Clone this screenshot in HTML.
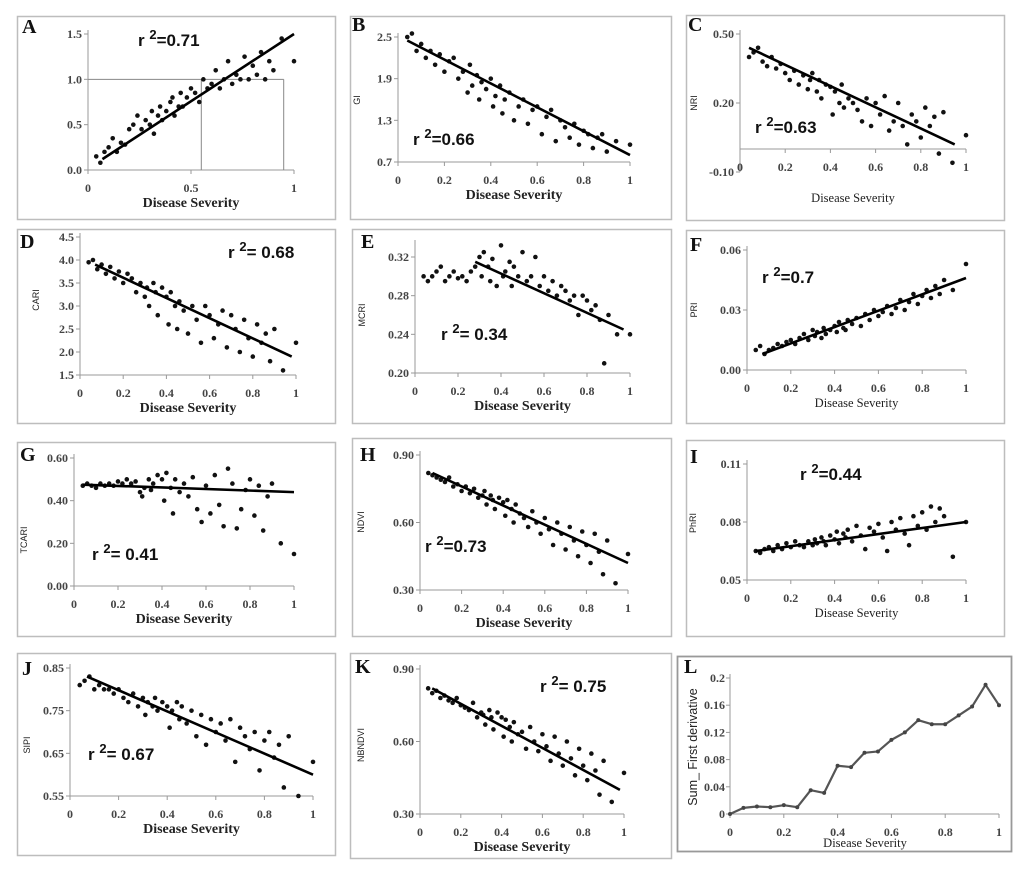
<!DOCTYPE html>
<html><head><meta charset="utf-8"><title>Disease severity indices</title>
<style>
html,body{margin:0;padding:0;background:#fff;}
svg{display:block;}
.tick{font-family:"Liberation Serif",serif;font-size:12px;font-weight:bold;fill:#444;}
.xt{font-family:"Liberation Serif",serif;font-size:14px;font-weight:bold;fill:#222;}
.xtn{font-family:"Liberation Serif",serif;font-size:12.5px;fill:#222;}
.yt{font-family:"Liberation Sans",sans-serif;font-size:9px;fill:#222;}
.lt{font-family:"Liberation Serif",serif;font-size:20px;font-weight:bold;fill:#111;}
.r2{font-family:"Liberation Sans",sans-serif;font-size:17px;font-weight:bold;fill:#111;}
</style></head>
<body>
<svg id="fig" width="1024" height="875" viewBox="0 0 1024 875" xmlns="http://www.w3.org/2000/svg"></svg>
<script>
// shared disease severity samples
const severity = [0.04,0.06,0.08,0.1,0.12,0.14,0.16,0.18,0.2,0.22,0.24,0.26,0.28,0.3,0.31,0.32,0.34,0.35,0.36,0.38,0.4,0.41,0.42,0.44,0.45,0.46,0.48,0.5,0.52,0.54,0.56,0.58,0.6,0.62,0.64,0.66,0.68,0.7,0.72,0.74,0.76,0.78,0.8,0.82,0.84,0.86,0.88,0.9,0.94,1.0];
const valA = [0.15,0.08,0.2,0.25,0.35,0.2,0.3,0.28,0.45,0.5,0.6,0.45,0.55,0.5,0.65,0.4,0.6,0.7,0.55,0.65,0.75,0.8,0.6,0.7,0.85,0.7,0.8,0.9,0.85,0.75,1.0,0.9,0.95,1.1,0.9,1.0,1.2,0.95,1.05,1.0,1.25,1.0,1.15,1.05,1.3,1.0,1.2,1.1,1.45,1.2];
const valB = [2.5,2.55,2.3,2.4,2.2,2.3,2.1,2.25,2.0,2.15,2.2,1.9,2.0,1.7,2.1,1.8,1.95,1.6,1.85,1.75,1.9,1.5,1.65,1.8,1.4,1.6,1.7,1.3,1.5,1.6,1.25,1.45,1.5,1.1,1.35,1.45,1.0,1.3,1.2,1.05,1.25,0.95,1.15,1.1,0.9,1.05,1.1,0.85,1.0,0.95];
const valC = [0.4,0.42,0.44,0.38,0.36,0.4,0.35,0.37,0.33,0.3,0.34,0.28,0.32,0.26,0.3,0.33,0.25,0.3,0.22,0.28,0.27,0.15,0.25,0.2,0.28,0.18,0.22,0.2,0.17,0.12,0.22,0.1,0.2,0.15,0.23,0.08,0.12,0.2,0.1,0.02,0.15,0.12,0.05,0.18,0.1,0.14,-0.02,0.16,-0.06,0.06];
const valD = [3.95,4.0,3.8,3.9,3.7,3.85,3.6,3.75,3.5,3.7,3.6,3.3,3.5,3.2,3.4,3.0,3.5,3.3,2.8,3.4,3.2,2.6,3.3,3.0,2.5,3.1,2.9,2.4,3.0,2.7,2.2,3.0,2.8,2.3,2.6,2.9,2.1,2.8,2.5,2.0,2.7,2.3,1.9,2.6,2.2,2.4,1.8,2.5,1.6,2.2];
const valE = [0.30,0.295,0.30,0.305,0.31,0.295,0.30,0.305,0.298,0.30,0.295,0.305,0.31,0.32,0.30,0.325,0.31,0.295,0.318,0.29,0.332,0.30,0.305,0.315,0.29,0.31,0.30,0.325,0.295,0.30,0.32,0.29,0.30,0.285,0.295,0.28,0.29,0.285,0.275,0.28,0.26,0.28,0.275,0.265,0.27,0.255,0.21,0.26,0.24,0.24];
const valF = [0.01,0.012,0.008,0.01,0.011,0.013,0.012,0.014,0.015,0.013,0.016,0.018,0.015,0.02,0.017,0.019,0.016,0.021,0.018,0.02,0.022,0.019,0.024,0.021,0.02,0.025,0.023,0.026,0.022,0.028,0.025,0.03,0.027,0.029,0.032,0.028,0.031,0.035,0.03,0.034,0.038,0.033,0.037,0.04,0.036,0.042,0.038,0.045,0.04,0.053];
const valG = [0.47,0.48,0.47,0.46,0.48,0.47,0.48,0.47,0.49,0.48,0.50,0.48,0.49,0.44,0.42,0.46,0.50,0.45,0.48,0.52,0.50,0.40,0.53,0.46,0.34,0.50,0.44,0.48,0.42,0.51,0.36,0.30,0.47,0.34,0.52,0.38,0.28,0.55,0.48,0.27,0.36,0.45,0.50,0.33,0.47,0.26,0.42,0.48,0.20,0.15];
const valH = [0.82,0.81,0.80,0.79,0.78,0.80,0.76,0.77,0.74,0.76,0.73,0.75,0.71,0.72,0.74,0.68,0.72,0.70,0.66,0.71,0.69,0.63,0.70,0.66,0.60,0.68,0.64,0.62,0.58,0.65,0.60,0.55,0.62,0.57,0.50,0.60,0.55,0.48,0.58,0.52,0.45,0.56,0.50,0.42,0.55,0.47,0.37,0.52,0.33,0.46];
const valI = [0.065,0.064,0.066,0.067,0.065,0.068,0.066,0.069,0.067,0.07,0.068,0.067,0.07,0.068,0.071,0.069,0.072,0.07,0.068,0.073,0.071,0.075,0.069,0.074,0.072,0.076,0.07,0.078,0.073,0.066,0.077,0.075,0.079,0.072,0.065,0.08,0.076,0.082,0.074,0.068,0.083,0.078,0.085,0.076,0.088,0.08,0.087,0.083,0.062,0.08];
const valJ = [0.81,0.82,0.83,0.80,0.81,0.80,0.80,0.79,0.80,0.78,0.77,0.79,0.76,0.78,0.74,0.77,0.76,0.78,0.75,0.77,0.76,0.71,0.75,0.77,0.73,0.76,0.72,0.75,0.69,0.74,0.67,0.73,0.70,0.72,0.68,0.73,0.63,0.71,0.69,0.66,0.70,0.61,0.68,0.70,0.64,0.67,0.57,0.69,0.55,0.63];
const valK = [0.82,0.80,0.81,0.78,0.79,0.77,0.76,0.78,0.75,0.74,0.73,0.76,0.70,0.72,0.71,0.67,0.73,0.70,0.65,0.72,0.70,0.62,0.69,0.66,0.60,0.68,0.63,0.64,0.57,0.66,0.60,0.56,0.63,0.58,0.52,0.62,0.55,0.50,0.60,0.53,0.46,0.57,0.50,0.44,0.55,0.48,0.38,0.52,0.35,0.47];
// trend line endpoints [x0,y0,x1,y1]
const fitA = [0.07,0.12,1.0,1.5];
const fitB = [0.04,2.45,1.0,0.8];
const fitC = [0.04,0.44,0.95,0.02];
const fitD = [0.07,3.9,0.98,1.9];
const fitE = [0.28,0.315,0.97,0.245];
const fitF = [0.07,0.008,1.0,0.046];
const fitG = [0.04,0.475,1.0,0.44];
const fitH = [0.06,0.82,1.0,0.42];
const fitI = [0.04,0.065,1.0,0.08];
const fitJ = [0.07,0.83,1.0,0.60];
const fitK = [0.06,0.82,0.98,0.40];
// panel L line
const sevL = [0,0.05,0.1,0.15,0.2,0.25,0.3,0.35,0.4,0.45,0.5,0.55,0.6,0.65,0.7,0.75,0.8,0.85,0.9,0.95,1.0];
const valL = [0,0.009,0.011,0.01,0.013,0.01,0.035,0.031,0.071,0.069,0.09,0.092,0.109,0.12,0.138,0.132,0.132,0.145,0.158,0.19,0.16];
// tick labels
const xTicksHalf = ["0","0.5","1"];
const xTicksFifth = ["0","0.2","0.4","0.6","0.8","1"];
const yTicksA = ["0.0","0.5","1.0","1.5"];
const yTicksB = ["0.7","1.3","1.9","2.5"];
const yTicksC = ["-0.10","0.20","0.50"];
const yTicksD = ["1.5","2.0","2.5","3.0","3.5","4.0","4.5"];
const yTicksE = ["0.20","0.24","0.28","0.32"];
const yTicksF = ["0.00","0.03","0.06"];
const yTicksG = ["0.00","0.20","0.40","0.60"];
const yTicksH = ["0.30","0.60","0.90"];
const yTicksI = ["0.05","0.08","0.11"];
const yTicksJ = ["0.55","0.65","0.75","0.85"];
const yTicksK = ["0.30","0.60","0.90"];
const yTicksL = ["0","0.04","0.08","0.12","0.16","0.2"];

const NS = "http://www.w3.org/2000/svg";
const svg = document.getElementById('fig');
function mk(tag, attrs, parent, text){
  const e = document.createElementNS(NS, tag);
  for (const k in attrs) e.setAttribute(k, attrs[k]);
  if (text !== undefined) e.textContent = text;
  (parent || svg).appendChild(e);
  return e;
}

const panels = [
 {id:'a',L:'A',box:[17,16,318,203],lp:[22,33],px:[88,294],py:[170,34],yr:[0,1.5],yt:yTicksA,xt:xTicksHalf,ys:valA,fit:fitA,ytitle:'',yp:[0,0],xbold:true,r2:'0.71',sep:'=',rp:[138,46],guides:true},
 {id:'b',L:'B',box:[350,16,321,203],lp:[352,31],px:[398,630],py:[162,37],yr:[0.7,2.5],yt:yTicksB,xt:xTicksFifth,ys:valB,fit:fitB,ytitle:'GI',yp:[360,100],xbold:true,r2:'0.66',sep:'=',rp:[413,145]},
 {id:'c',L:'C',box:[686,15,318,205],lp:[688,31],px:[740,966],py:[172,34],yr:[-0.1,0.5],yt:yTicksC,xt:xTicksFifth,ys:valC,fit:fitC,ytitle:'NRI',yp:[697,103],xbold:false,r2:'0.63',sep:'=',rp:[755,133],xAxisAt:0},
 {id:'d',L:'D',box:[17,229,318,194],lp:[20,248],px:[80,296],py:[375,237],yr:[1.5,4.5],yt:yTicksD,xt:xTicksFifth,ys:valD,fit:fitD,ytitle:'CARI',yp:[39,300],xbold:true,r2:'0.68',sep:'=  ',rp:[228,258]},
 {id:'e',L:'E',box:[352,229,319,194],lp:[361,248],px:[415,630],py:[373,257],yr:[0.2,0.32],yt:yTicksE,xt:xTicksFifth,ys:valE,fit:fitE,ytitle:'MCRI',yp:[365,315],xbold:true,r2:'0.34',sep:'=  ',rp:[441,340],axTop:240},
 {id:'f',L:'F',box:[686,230,318,193],lp:[690,251],px:[747,966],py:[370,250],yr:[0,0.06],yt:yTicksF,xt:xTicksFifth,ys:valF,fit:fitF,ytitle:'PRI',yp:[697,310],xbold:false,r2:'0.7',sep:'=',rp:[762,283]},
 {id:'g',L:'G',box:[17,442,318,194],lp:[20,461],px:[74,294],py:[586,458],yr:[0,0.6],yt:yTicksG,xt:xTicksFifth,ys:valG,fit:fitG,ytitle:'TCARI',yp:[27,540],xbold:true,r2:'0.41',sep:'=  ',rp:[92,560]},
 {id:'h',L:'H',box:[352,438,319,198],lp:[360,461],px:[420,628],py:[590,455],yr:[0.3,0.9],yt:yTicksH,xt:xTicksFifth,ys:valH,fit:fitH,ytitle:'NDVI',yp:[364,522],xbold:true,r2:'0.73',sep:'=',rp:[425,552]},
 {id:'i',L:'I',box:[686,440,318,196],lp:[690,463],px:[747,966],py:[580,464],yr:[0.05,0.11],yt:yTicksI,xt:xTicksFifth,ys:valI,fit:fitI,ytitle:'PhRI',yp:[696,523],xbold:false,r2:'0.44',sep:'=',rp:[800,480]},
 {id:'j',L:'J',box:[17,653,318,202],lp:[22,675],px:[70,313],py:[796,668],yr:[0.55,0.85],yt:yTicksJ,xt:xTicksFifth,ys:valJ,fit:fitJ,ytitle:'SIPI',yp:[30,745],xbold:true,r2:'0.67',sep:'= ',rp:[88,760]},
 {id:'k',L:'K',box:[350,653,321,205],lp:[355,673],px:[420,624],py:[814,669],yr:[0.3,0.9],yt:yTicksK,xt:xTicksFifth,ys:valK,fit:fitK,ytitle:'NBNDVI',yp:[364,745],xbold:true,r2:'0.75',sep:'= ',rp:[540,692]}
];

panels.forEach(p => {
  const g = mk('g', {});
  
  
  const box = mk('rect', {x:p.box[0]+0.5,y:p.box[1]+0.5,width:p.box[2],height:p.box[3],fill:'#fff',stroke:'#bdbdbd','stroke-width':1.5}, g);
  
  
  const sx = v => p.px[0] + v * (p.px[1] - p.px[0]);
  const sy = v => p.py[0] - (v - p.yr[0]) / (p.yr[1] - p.yr[0]) * (p.py[0] - p.py[1]);
  const xAxisY = p.xAxisAt !== undefined ? sy(p.xAxisAt) : p.py[0];
  const top = p.axTop || (p.py[1] - 4);
  const ya = mk('line', {x1:p.px[0],y1:top,x2:p.px[0],y2:p.py[0],stroke:'#999','stroke-width':1}, g);
  
  
  const xa = mk('line', {x1:p.px[0],y1:xAxisY,x2:p.px[1],y2:xAxisY,stroke:'#999','stroke-width':1}, g);
  
  
  p.yt.forEach(t => {
    const y = sy(parseFloat(t));
    mk('line', {x1:p.px[0]-4,y1:y,x2:p.px[0],y2:y,stroke:'#999'}, g);
    const tl = mk('text', {x:p.px[0]-6,y:y+4,'text-anchor':'end',class:'tick'}, g, t);
    
    
  });
  p.xt.forEach(t => {
    const x = sx(parseFloat(t));
    mk('line', {x1:x,y1:xAxisY,x2:x,y2:xAxisY+4,stroke:'#999'}, g);
    const tl = mk('text', {x:x,y:xAxisY+22,'text-anchor':'middle',class:'tick'}, g, t);
    
    
  });
  if (p.guides) {
    const gl = mk('path', {d:`M${sx(0)},${sy(1)}H${sx(0.95)}M${sx(0.55)},${sy(1)}V${sy(0)}M${sx(0.95)},${sy(1)}V${sy(0)}`,stroke:'#888',fill:'none','stroke-width':1}, g);
    
    
  }
  severity.forEach((s, i) => {
    const c = mk('circle', {cx:sx(s),cy:sy(p.ys[i]),r:2.3,fill:'#111'}, g);
    
    
  });
  const fl = mk('line', {x1:sx(p.fit[0]),y1:sy(p.fit[1]),x2:sx(p.fit[2]),y2:sy(p.fit[3]),stroke:'#000','stroke-width':2.6}, g);
  
  
  const lt = mk('text', {x:p.lp[0],y:p.lp[1],class:'lt'}, g, p.L);
  
  
  const xc = (p.px[0] + p.px[1]) / 2;
  const xtl = mk('text', {x:xc,y:(p.xAxisAt!==undefined? p.py[0]+30 : p.py[0]+37),'text-anchor':'middle',class:p.xbold?'xt':'xtn'}, g, 'Disease Severity');
  
  
  if (p.ytitle) {
    const yl = mk('text', {x:p.yp[0],y:p.yp[1],'text-anchor':'middle',class:'yt',transform:`rotate(-90 ${p.yp[0]} ${p.yp[1]})`}, g, p.ytitle);
    
    
  }
  const r = mk('text', {x:p.rp[0],y:p.rp[1],class:'r2'}, g);
  
  
  mk('tspan', {}, r, 'r ');
  mk('tspan', {dy:-7,'font-size':'13px'}, r, '2');
  mk('tspan', {dy:7}, r, p.sep + p.r2);
});

// Panel L
(function(){
  const g = mk('g', {});
  
  
  const box = mk('rect', {x:677.5,y:656.5,width:334,height:195,fill:'#fff',stroke:'#999','stroke-width':1.8}, g);
  
  
  const px = [730, 999], py = [814, 678];
  const sx = v => px[0] + v * (px[1] - px[0]);
  const sy = v => py[0] - v / 0.2 * (py[0] - py[1]);
  const ya = mk('line', {x1:px[0],y1:674,x2:px[0],y2:py[0],stroke:'#999'}, g);
  
  
  const xa = mk('line', {x1:px[0],y1:py[0],x2:px[1],y2:py[0],stroke:'#999'}, g);
  
  
  yTicksL.forEach(t => {
    const y = sy(parseFloat(t));
    mk('line', {x1:px[0]-4,y1:y,x2:px[0],y2:y,stroke:'#999'}, g);
    const tl = mk('text', {x:px[0]-5,y:y+4,'text-anchor':'end',class:'tick'}, g, t);
    
    
  });
  xTicksFifth.forEach(t => {
    const x = sx(parseFloat(t));
    mk('line', {x1:x,y1:py[0],x2:x,y2:py[0]+4,stroke:'#999'}, g);
    const tl = mk('text', {x:x,y:py[0]+22,'text-anchor':'middle',class:'tick'}, g, t);
    
    
  });
  const d = sevL.map((s, i) => (i ? 'L' : 'M') + sx(s) + ',' + sy(valL[i])).join('');
  const ln = mk('path', {d:d,fill:'none',stroke:'#555','stroke-width':2.2,'stroke-linejoin':'round'}, g);
  
  
  sevL.forEach((s, i) => {
    const c = mk('circle', {cx:sx(s),cy:sy(valL[i]),r:2,fill:'#444'}, g);
    
    
  });
  const lt = mk('text', {x:684,y:673,class:'lt'}, g, 'L');
  
  
  const xt = mk('text', {x:865,y:847,'text-anchor':'middle',class:'xtn','font-size':'13px'}, g, 'Disease Severity');
  
  
  const yl = mk('text', {x:697,y:747,'text-anchor':'middle','font-family':'Liberation Sans, sans-serif','font-size':'12.5px',fill:'#222',transform:'rotate(-90 697 747)'}, g, 'Sum_ First derivative');
  
  
})();
</script>
</body></html>
